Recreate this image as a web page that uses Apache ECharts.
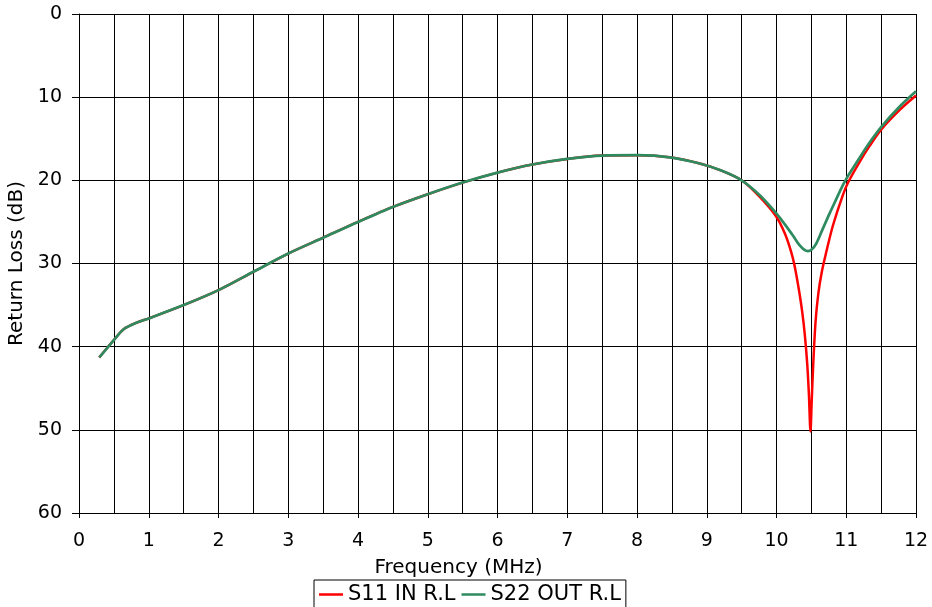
<!DOCTYPE html>
<html>
<head>
<meta charset="utf-8">
<script src="https://cdn.jsdelivr.net/npm/echarts@6/dist/echarts.min.js"></script>
<style>html,body{margin:0;padding:0;background:#fff}#c{width:932px;height:607px}</style>
</head>
<body>
<div id="c"></div>
<script>
var xTicks = [0,1,2,3,4,5,6,7,8,9,10,11,12];
var yTicks = [0,10,20,30,40,50,60];
var seriesNames = ['S11 IN R.L', 'S22 OUT R.L'];

var freqS11 = [0.29,0.5,0.64,0.83,1.0,1.5,2.0,2.5,3.0,3.5,4.0,4.5,5.0,5.5,6.0,6.5,7.0,7.5,8.0,8.5,8.9,9.2,9.5,9.76,10.0,10.12,10.21,10.26,10.33,10.37,10.405,10.44,10.465,10.487,10.505,10.525,10.56,10.6,10.65,10.72,10.81,10.95,11.03,11.19,11.34,11.5,11.77,12.0];
var lossS11 = [41.3,39.2,37.9,37.1,36.6,35.0,33.2,31.0,28.8,26.9,25.0,23.2,21.67,20.27,19.07,18.1,17.43,17.02,16.98,17.26,17.98,18.8,20.0,22.0,24.4,26.4,28.6,30.3,33.6,35.9,38.5,42.0,45.8,50.2,46.5,42.4,37.0,33.6,31.0,28.4,25.4,21.8,20.2,17.8,15.8,13.9,11.5,9.8];

var freqS22 = [0.29,0.5,0.64,0.83,1.0,1.5,2.0,2.5,3.0,3.5,4.0,4.5,5.0,5.5,6.0,6.5,7.0,7.5,8.0,8.5,8.9,9.2,9.5,9.76,10.0,10.12,10.24,10.33,10.4,10.45,10.5,10.57,10.66,10.76,10.86,10.95,11.03,11.19,11.34,11.5,11.77,12.0];
var lossS22 = [41.3,39.2,37.9,37.1,36.6,35.0,33.2,31.0,28.8,26.9,25.0,23.2,21.67,20.27,19.07,18.1,17.43,17.02,16.98,17.26,17.98,18.8,20.0,21.8,24.0,25.3,26.7,27.8,28.35,28.5,28.35,27.6,25.9,24.0,22.2,20.6,19.4,17.3,15.4,13.6,11.1,9.3];

function pairs(xs, ys){ return xs.map(function(x,i){ return [x, ys[i]]; }); }

var FONT = 'Verdana, "DejaVu Sans", sans-serif';
var lineIcon = 'path://M0,0 L24,0 L24,2.5 L0,2.5 Z';
var chart = echarts.init(document.getElementById('c'), null, {renderer:'canvas'});
chart.setOption({
  animation: false,
  backgroundColor: '#fff',
  grid: {left: 79, right: 16, top: 14, bottom: 94, containLabel: false, outerBoundsMode: 'none'},
  legend: {
    left: 314, top: 580,
    data: [{name: seriesNames[0], icon: lineIcon}, {name: seriesNames[1], icon: lineIcon}],
    itemWidth: 24, itemHeight: 2.5, itemGap: 6,
    padding: [4, 5, 10, 5],
    borderColor: '#000', borderWidth: 1,
    textStyle: {fontFamily: FONT, fontSize: 21, color: '#000'}
  },
  xAxis: {
    type: 'value', min: xTicks[0], max: xTicks[xTicks.length-1], interval: 1,
    name: 'Frequency (MHz)', nameLocation: 'middle', nameGap: 45,
    nameTextStyle: {fontFamily: FONT, fontSize: 20, color: '#000', padding: [0, 78, 0, 0]},
    axisLine: {show: true, onZero: false, lineStyle: {color: '#000', width: 1}},
    axisTick: {show: true, length: 5, lineStyle: {color: '#000'}},
    axisLabel: {margin: 19, fontFamily: FONT, fontSize: 19, color: '#000'},
    splitLine: {show: true, lineStyle: {color: '#000', width: 1}},
    minorTick: {show: false, splitNumber: 2},
    minorSplitLine: {show: true, lineStyle: {color: '#000', width: 1}}
  },
  yAxis: {
    type: 'value', inverse: true, min: yTicks[0], max: yTicks[yTicks.length-1], interval: 10,
    name: 'Return Loss (dB)', nameLocation: 'middle', nameGap: 51,
    nameTextStyle: {fontFamily: FONT, fontSize: 20, color: '#000'},
    axisLine: {show: true, lineStyle: {color: '#000', width: 1}},
    axisTick: {show: true, length: 7, lineStyle: {color: '#000'}},
    axisLabel: {margin: 17, fontFamily: FONT, fontSize: 19, color: '#000'},
    splitLine: {show: true, lineStyle: {color: '#000', width: 1}}
  },
  series: [
    {name: seriesNames[0], type: 'line', data: pairs(freqS11, lossS11), symbol: 'none', smooth: 0.3,
     lineStyle: {color: '#ff0000', width: 2.5}, itemStyle: {color: '#ff0000'}},
    {name: seriesNames[1], type: 'line', data: pairs(freqS22, lossS22), symbol: 'none', smooth: 0.3,
     lineStyle: {color: '#2e8b60', width: 2.7}, itemStyle: {color: '#2e8b60'}}
  ]
});
</script>
</body>
</html>
